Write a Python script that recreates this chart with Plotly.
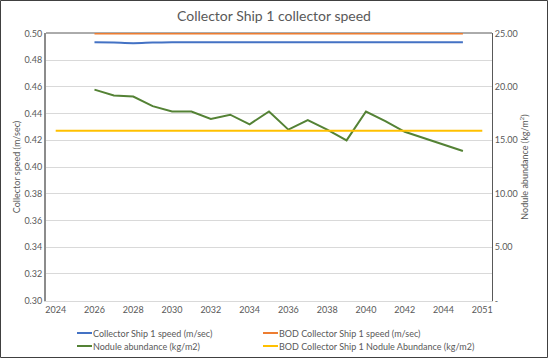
import plotly.graph_objects as go

years = ["2024", "2025", "2026", "2027", "2028", "2029", "2030", "2031", "2032", "2033",
         "2034", "2035", "2036", "2037", "2038", "2039", "2040", "2041", "2042", "2043",
         "2044", "2045", "2051"]

speed = [None, None, 0.4935, 0.4932, 0.4928, 0.4932, 0.4935, 0.4935, 0.4935, 0.4935,
         0.4935, 0.4935, 0.4935, 0.4935, 0.4935, 0.4935, 0.4935, 0.4935, 0.4935, 0.4935,
         0.4935, 0.4935, None]
bod_speed = [None, None] + [0.50] * 20 + [None]
abundance = [None, None, 19.75, 19.2, 19.1, 18.2, 17.7, 17.7, 17.0, 17.4,
             16.5, 17.7, 16.0, 16.9, 16.0, 15.0, 17.7, 16.8, 15.8, 15.2,
             14.6, 14.0, None]
bod_abundance = [15.9] * 23

series_names = ["Collector Ship 1 speed (m/sec)", "BOD Collector Ship 1 speed (m/sec)",
                "Nodule abundance (kg/m2)", "BOD Collector Ship 1 Nodule Abundance (kg/m2)"]
series_colors = ["#4472C4", "#ED7D31", "#548235", "#FFC000"]

left_ticks = [0.30, 0.32, 0.34, 0.36, 0.38, 0.40, 0.42, 0.44, 0.46, 0.48, 0.50]
right_ticks = [0, 5, 10, 15, 20, 25]
right_labels = ["-", "5.00", "10.00", "15.00", "20.00", "25.00"]
x_labels = years[0::2]

FONT = "Lato, 'Open Sans', sans-serif"
GREY = "#595959"

# plot area geometry in pixels
W, H = 548, 358
ML, MR, MT, MB = 46, 56, 33, 57
PW, PH = W - ML - MR, H - MT - MB


def px_x(x):
    return (x - ML) / PW


def px_y(y):
    return (H - MB - y) / PH


fig = go.Figure()
fig.add_trace(go.Scatter(x=years, y=speed, mode="lines", name=series_names[0],
                         line=dict(color=series_colors[0], width=2), line_shape="spline"))
fig.add_trace(go.Scatter(x=years, y=bod_speed, mode="lines", name=series_names[1],
                         line=dict(color=series_colors[1], width=2)))
fig.add_trace(go.Scatter(x=years, y=abundance, mode="lines", name=series_names[2],
                         line=dict(color=series_colors[2], width=2), yaxis="y2"))
fig.add_trace(go.Scatter(x=years, y=bod_abundance, mode="lines", name=series_names[3],
                         line=dict(color=series_colors[3], width=2), yaxis="y2"))

shapes = [
    dict(type="line", xref="paper", yref="paper", x0=0, x1=1, y0=1, y1=1, layer="below",
         line=dict(color="#595959", width=1)),
    dict(type="rect", xref="paper", yref="paper", layer="below",
         x0=px_x(0.5), x1=px_x(W - 0.5), y0=px_y(H - 0.5), y1=px_y(0.5),
         line=dict(color="#404040", width=1)),
]
annotations = []
# legend: 2 columns x 2 rows
legend_pos = [(77, 333), (263, 333), (77, 346), (263, 346)]
for (lx, ly), name, color in zip(legend_pos, series_names, series_colors):
    shapes.append(dict(type="line", xref="paper", yref="paper",
                       x0=px_x(lx), x1=px_x(lx + 15), y0=px_y(ly), y1=px_y(ly),
                       line=dict(color=color, width=2)))
    annotations.append(dict(text=name, xref="paper", yref="paper", x=px_x(lx + 14), y=px_y(ly),
                            xanchor="left", yanchor="middle", showarrow=False,
                            font=dict(size=9, color=GREY)))

fig.update_layout(
    width=W, height=H,
    margin=dict(l=ML, r=MR, t=MT, b=MB),
    paper_bgcolor="white", plot_bgcolor="white",
    font=dict(family=FONT, size=9, color=GREY),
    showlegend=False,
    title=dict(text="Collector Ship 1 collector speed", x=0.5, xanchor="center",
               y=1 - 16 / H, yanchor="middle", font=dict(size=14, color=GREY)),
    xaxis=dict(type="category", categoryorder="array", categoryarray=years,
               tickmode="array", tickvals=x_labels, ticktext=x_labels,
               showgrid=False, showline=True, linecolor="#d9d9d9", linewidth=1,
               ticks="", tickfont=dict(size=9, color=GREY), range=[-0.5, 22.5]),
    yaxis=dict(range=[0.2996, 0.5004], tickmode="array", tickvals=left_ticks,
               tickformat=".2f", showgrid=True, gridcolor="#d9d9d9", gridwidth=1,
               showline=True, linecolor="#8c8c8c", linewidth=2, zeroline=False,
               ticks="", tickfont=dict(size=9, color=GREY),
               title=dict(text="Collector speed (m/sec)", font=dict(size=9, color=GREY), standoff=2)),
    yaxis2=dict(range=[-0.05, 25.05], overlaying="y", side="right", tickmode="array",
                tickvals=right_ticks, ticktext=right_labels, showgrid=False,
                showline=True, linecolor="#595959", linewidth=1, zeroline=False,
                ticks="", tickfont=dict(size=9, color=GREY),
                title=dict(text="Nodule abundance (kg/m<sup>2</sup>)", font=dict(size=9, color=GREY), standoff=3)),
    shapes=shapes,
    annotations=annotations,
)

fig.write_html("out.html", config={"displayModeBar": False},
               post_script="document.body.style.margin='0';")
